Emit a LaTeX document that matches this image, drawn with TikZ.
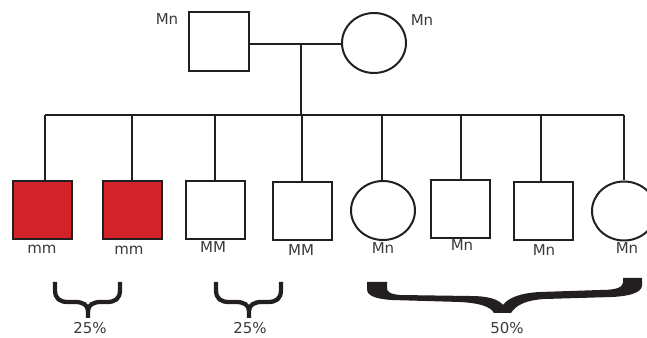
\documentclass[tikz,border=0pt]{standalone}
\usepackage{fontspec}
\setmainfont{DejaVu Sans}
\usetikzlibrary{shapes.geometric}
\definecolor{ink}{HTML}{231F20}
\definecolor{affected}{HTML}{D2232A}
\definecolor{labelgray}{HTML}{3A3A3A}
\newcommand{\lblfont}{\fontsize{11.25}{13}\selectfont}
\begin{document}
\begin{tikzpicture}[x=0.75pt, y=-0.75pt,
  male/.style={draw=ink, line width=1.5pt, fill=white, rectangle,
    minimum width=44.25pt, minimum height=43.5pt, inner sep=0pt},
  female/.style={draw=ink, line width=1.5pt, fill=white, ellipse,
    minimum width=48pt, minimum height=44.25pt, inner sep=0pt},
  sick/.style={fill=affected},
  link/.style={draw=ink, line width=1.2pt},
  lbl/.style={text=labelgray, font=\lblfont, anchor=base, inner sep=0pt},
  brace/.style={draw=ink, line width=3.2pt, line cap=butt}]
\useasboundingbox (0,0) rectangle (647,338);

% parents
\node[male, minimum width=45pt, minimum height=44.25pt] (dad) at (219,41.5) {};
\node[female, minimum height=45pt] (mom) at (374,43) {};
\node[lbl] (dadlbl) at (167,25) {Mn};
\node[lbl] (momlbl) at (422,26) {Mn};

% marriage and descent lines
\coordinate (mid) at (301,44);
\coordinate (sib) at (301,115);
\draw[link] (dad.east |- mid) -- (mid -| mom.west);
\draw[link] (mid) -- (sib);

% children
\node[male, sick] (c1) at (42.5,210) {};
\node[male, sick] (c2) at (132.5,210) {};
\node[male] (c3) at (215.5,210) {};
\node[male] (c4) at (302.5,211) {};
\node[female] (c5) at (383,210.5) {};
\node[male] (c6) at (460.5,209) {};
\node[male] (c7) at (543.5,211) {};
\node[female] (c8) at (624,211) {};

% sibship line and drops
\coordinate (s1) at (45,115);
\coordinate (s2) at (132,115);
\coordinate (s3) at (215,115);
\coordinate (s4) at (302,115);
\coordinate (s5) at (382,115);
\coordinate (s6) at (461,115);
\coordinate (s7) at (541,115);
\coordinate (s8) at (624,115);
\draw[link] (s1) -- (s8);
\foreach \i in {1,...,8}
  \draw[link] (s\i) -- (s\i |- c\i.north);

% genotype labels
\node[lbl] (g1) at (42,254) {mm};
\node[lbl] (g2) at (129,255) {mm};
\node[lbl] (g3) at (213,253) {MM};
\node[lbl] (g4) at (301,256) {MM};
\node[lbl] (g5) at (383,254) {Mn};
\node[lbl] (g6) at (462,251) {Mn};
\node[lbl] (g7) at (544,256) {Mn};
\node[lbl] (g8) at (627,254) {Mn};

% small braces
\foreach \c in {88,249}{
  \draw[brace] (\c-33,282) -- (\c-33,290)
    .. controls (\c-33,299) and (\c-28,302) .. (\c-20,302) -- (\c-13,302)
    .. controls (\c-5,302) and (\c,305) .. (\c,311) -- (\c,318);
  \draw[brace] (\c+32,282) -- (\c+32,290)
    .. controls (\c+32,299) and (\c+27,302) .. (\c+19,302) -- (\c+13,302)
    .. controls (\c+5,302) and (\c,305) .. (\c,311);
}
% large brace
\fill[ink] (367,282) -- (367,289)
  .. controls (367,296) and (376,299) .. (392,300) -- (460,302)
  .. controls (478,303) and (490,306) .. (494,313) -- (511,313)
  .. controls (516,305) and (526,300) .. (545,299) -- (612,297)
  .. controls (632,296) and (641,292) .. (642,286) -- (642,278) -- (623,278) -- (623,283)
  .. controls (622,288) and (615,290) .. (600,290) -- (540,292)
  .. controls (520,293) and (508,298) .. (503,305)
  .. controls (498,299) and (488,296) .. (470,296) -- (400,295)
  .. controls (390,294) and (387,292) .. (387,288) -- (387,282) -- cycle;

% percentages
\node[lbl] (p1) at (90,334) {25\%};
\node[lbl] (p2) at (250,334) {25\%};
\node[lbl] (p3) at (507,334) {50\%};
\end{tikzpicture}
\end{document}
